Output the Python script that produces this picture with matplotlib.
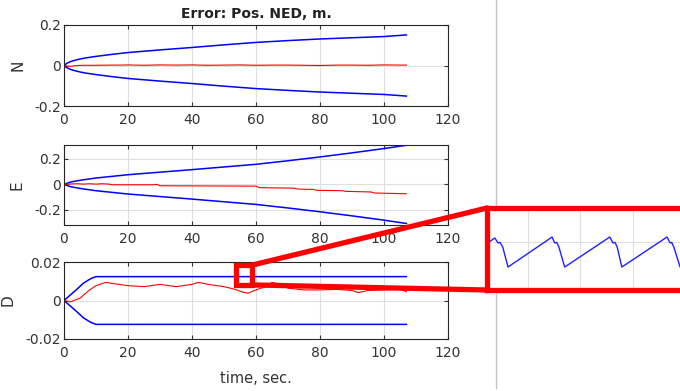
import matplotlib

matplotlib.use("Agg")
import matplotlib.pyplot as plt
from matplotlib.lines import Line2D
from matplotlib.patches import Rectangle, ConnectionPatch

plt.rcParams["font.family"] = ["DejaVu Sans"]

# N channel: error and +/- bound
t_n = [0, 1, 2, 3, 5, 7, 10, 15, 20, 30, 40, 50, 60, 70, 80, 90, 100, 107]
n_bound = [0, 0.012, 0.019, 0.024, 0.032, 0.038, 0.045, 0.055, 0.064, 0.077,
           0.089, 0.102, 0.114, 0.123, 0.131, 0.137, 0.143, 0.151]
t_n_err = [0, 1, 2, 3, 4, 6, 10, 15, 18, 20, 25, 30, 35, 40, 45, 50, 55,
           60, 65, 70, 75, 80, 85, 90, 95, 100, 105, 107]
n_err = [0, -0.003, -0.004, -0.002, 0.0, 0.001, 0.001, 0.002, 0.002, 0.003,
         0.001, 0.003, 0.002, 0.003, 0.001, 0.002, 0.003, 0.001, 0.002, 0.002,
         0.001, 0.0, 0.002, 0.002, 0.001, 0.003, 0.002, 0.002]

# E channel
t_e = [0, 2, 5, 10, 20, 30, 40, 50, 60, 70, 80, 90, 100, 107]
e_bound = [0, 0.018, 0.032, 0.050, 0.076, 0.096, 0.116, 0.137, 0.158, 0.186,
           0.216, 0.248, 0.282, 0.308]
t_e_err = [0, 2, 4, 6, 8, 10, 12, 14, 15, 28, 29, 30, 60, 61, 72, 73, 78, 79,
           87, 88, 96, 97, 107]
e_err = [0, 0.003, 0.005, 0.002, 0.005, 0.002, 0.005, 0.002, -0.003, -0.003,
         0.0, -0.011, -0.014, -0.026, -0.030, -0.037, -0.040, -0.047, -0.050,
         -0.055, -0.060, -0.068, -0.074]

# D channel
t_d = [0, 2, 4, 6, 8, 9, 10, 107]
d_bound = [0, 0.0029, 0.0058, 0.0089, 0.0110, 0.0118, 0.0124, 0.0124]
t_d_err = [0, 2, 5, 8, 10, 13, 15, 20, 25, 30, 35, 40, 42, 45, 50, 53, 56,
           57.5, 60, 63, 65, 67, 70, 75, 80, 85, 90, 92, 95, 100, 105, 107]
d_err = [0, -0.0007, 0.0012, 0.0055, 0.0077, 0.0094, 0.0089, 0.0077, 0.0072,
         0.0084, 0.0072, 0.0084, 0.0094, 0.0084, 0.0072, 0.0060, 0.0043,
         0.0038, 0.0055, 0.0072, 0.0094, 0.0086, 0.0064, 0.0055, 0.0055,
         0.0058, 0.0052, 0.0041, 0.0052, 0.0055, 0.0058, 0.0046]

# zoomed detail of the upper D bound (sawtooth)
t_zoom = [54.2, 54.37, 54.43, 54.47, 54.52, 54.62, 55.46, 55.51, 55.55, 55.59,
          55.70, 56.56, 56.62, 56.66, 56.70, 56.79, 57.65, 57.71, 57.74,
          57.78, 57.90, 58.75]
d_zoom = [0.01249, 0.012527, 0.012497, 0.0125, 0.012472, 0.01235, 0.012533,
          0.012497, 0.0125, 0.012472, 0.01235, 0.012533, 0.012497, 0.0125,
          0.012472, 0.01235, 0.012533, 0.012497, 0.0125, 0.012472, 0.01235,
          0.012533]

W, H = 680, 391
BLUE, RED = "#0000ff", "#ff0000"
TXT = "#333333"


def px_axes(fig, x0, y0, x1, y1):
    return fig.add_axes([x0 / W, 1 - y1 / H, (x1 - x0) / W, (y1 - y0) / H])


def style(ax, ylim, yticks, yticklabels, ylabel, label_x):
    ax.set_xlim(0, 120)
    ax.set_ylim(*ylim)
    ax.set_xticks([0, 20, 40, 60, 80, 100, 120])
    ax.set_yticks(yticks)
    ax.set_yticklabels(yticklabels)
    ax.grid(True, color="#dfdfdf", lw=0.8)
    ax.set_axisbelow(True)
    ax.tick_params(direction="in", length=3, top=True, right=True,
                   labelsize=10, colors=TXT)
    ax.tick_params(axis="x", pad=5)
    ax.tick_params(axis="y", pad=2)
    for s in ax.spines.values():
        s.set_color("#262626")
        s.set_linewidth(0.8)
    ax.set_ylabel(ylabel, fontsize=11, color=TXT)
    ax.yaxis.set_label_coords(label_x, 0.5)


fig = plt.figure(figsize=(W / 100, H / 100), dpi=100)

# separator line of the neighbouring panel
fig.add_artist(Line2D([496 / W, 496 / W], [1 - 388 / H, 1.0],
                      color="#c4c4c4", lw=1.0, zorder=0))

ax1 = px_axes(fig, 64, 25, 448, 106)
ax1.plot(t_n, n_bound, color=BLUE, lw=1.1)
ax1.plot(t_n, [-v for v in n_bound], color=BLUE, lw=1.1)
ax1.plot(t_n_err, n_err, color=RED, lw=0.8)
style(ax1, (-0.2, 0.2), [-0.2, 0, 0.2], ["-0.2", "0", "0.2"], "N", -0.099)
ax1.set_title("Error: Pos. NED, m.", fontsize=10, fontweight="bold",
              color="#222222", pad=5)

ax2 = px_axes(fig, 64, 145, 448, 225)
ax2.plot(t_e, e_bound, color=BLUE, lw=1.1)
ax2.plot(t_e, [-v for v in e_bound], color=BLUE, lw=1.1)
ax2.plot(t_e_err, e_err, color=RED, lw=0.8)
style(ax2, (-0.32, 0.31), [-0.2, 0, 0.2], ["-0.2", "0", "0.2"], "E", -0.104)

ax3 = px_axes(fig, 64, 262, 448, 339)
ax3.plot(t_d, d_bound, color=BLUE, lw=1.1)
ax3.plot(t_d, [-v for v in d_bound], color=BLUE, lw=1.1)
ax3.plot(t_d_err, d_err, color=RED, lw=0.8)
style(ax3, (-0.02, 0.02), [-0.02, 0, 0.02], ["-0.02", "0", "0.02"], "D", -0.125)
ax3.set_xlabel("time, sec.", fontsize=10.5, color=TXT, labelpad=8)

# zoom inset
axz = px_axes(fig, 487, 208, 720, 290)
axz.set_facecolor("white")
axz.plot(t_zoom, d_zoom, color="#2020ff", lw=1.0)
axz.set_xlim(54.22, 58.66)
axz.set_ylim(0.01221, 0.01271)
axz.set_xticks([55, 56, 57, 58])
axz.set_yticks([0.0125])
axz.grid(True, color="#dfdfdf", lw=0.8)
axz.tick_params(length=0, labelbottom=False, labelleft=False)
for s in axz.spines.values():
    s.set_color(RED)
    s.set_linewidth(3.8)

# highlight box on D panel and connectors
x0, x1, y0, y1 = 53.8, 58.8, 0.0081, 0.0184
ax3.add_patch(Rectangle((x0, y0), x1 - x0, y1 - y0, fill=False,
                        edgecolor=RED, lw=3.8, zorder=6, clip_on=False))
for yy, ya in ((y1, 1.0), (y0, 0.0)):
    con = ConnectionPatch(xyA=(x1, yy), coordsA=ax3.transData,
                          xyB=(0.0, ya), coordsB=axz.transAxes,
                          color=RED, lw=3.8, zorder=7)
    fig.add_artist(con)

fig.savefig("out.png", dpi=100)
